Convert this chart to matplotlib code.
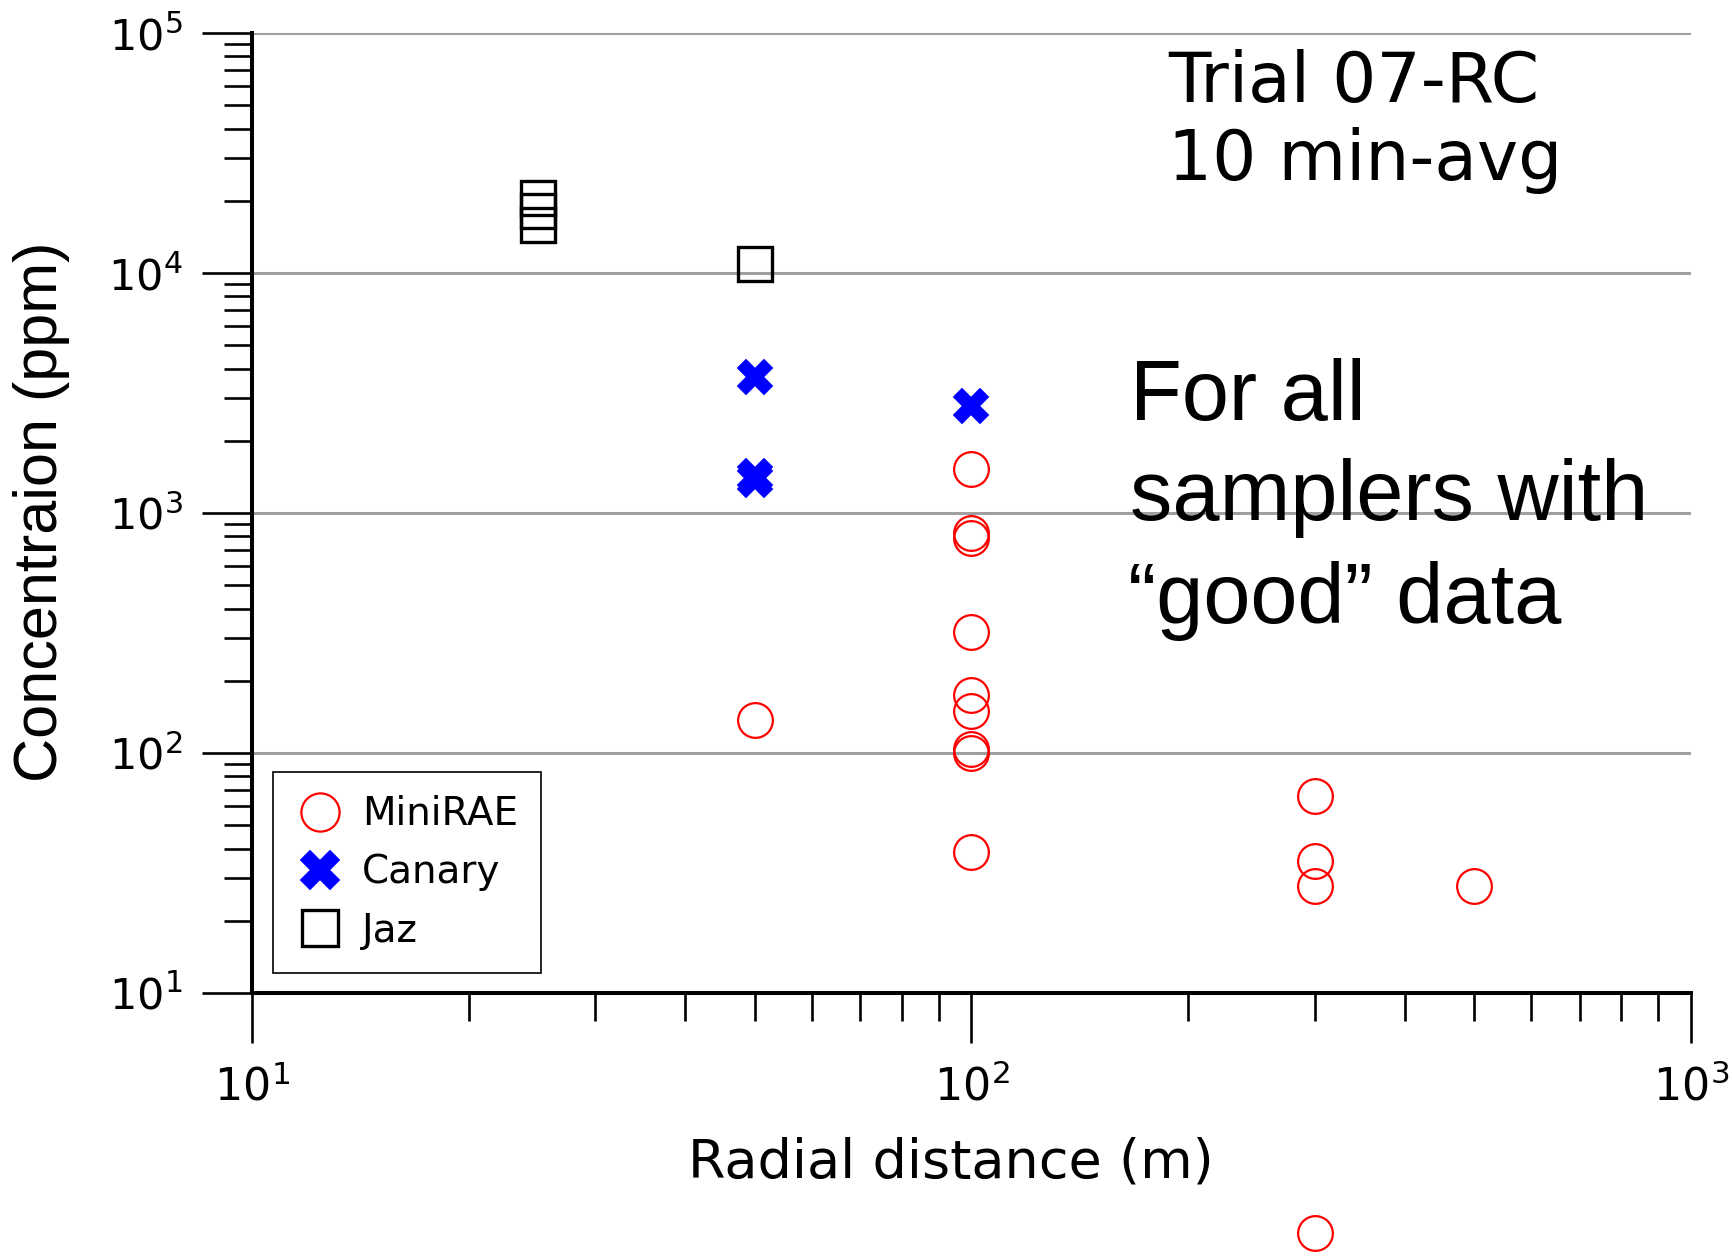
import matplotlib
matplotlib.use('Agg')
import matplotlib.pyplot as plt
from matplotlib.ticker import LogLocator, NullFormatter

# readings from the reference chart
minirae_x = [50, 100, 100, 100, 100, 100, 100, 100, 100, 100, 300, 300, 300, 300, 500]
minirae_y = [137, 1519, 828, 787, 320, 174, 149, 104, 100, 38.6, 66.2, 35.5, 27.9, 1.0, 27.9]
canary_x = [50, 50, 50, 100]
canary_y = [3675, 1420, 1370, 2795]
jaz_x = [25, 25, 25, 50]
jaz_y = [20470, 18130, 15810, 10900]

W, H = 1733, 1258
plt.rcParams['mathtext.default'] = 'regular'
plt.rcParams['font.family'] = ['DejaVu Sans']

fig = plt.figure(figsize=(W / 100, H / 100), dpi=100)
ax = fig.add_axes([252 / W, 1 - 993 / H, 1439 / W, 960 / H])

ax.plot(minirae_x, minirae_y, 'o', ms=25, mfc='none', mec='red', mew=1.6,
        label='MiniRAE', clip_on=False, zorder=3)
ax.plot(canary_x, canary_y, 'X', ms=26, mfc='blue', mec='blue', mew=0.3,
        label='Canary', zorder=3)
ax.plot(jaz_x, jaz_y, 's', ms=24, mfc='none', mec='black', mew=2.4,
        label='Jaz', zorder=3)

ax.set_xscale('log')
ax.set_yscale('log')
ax.set_xlim(10, 1000)
ax.set_ylim(10, 1e5)

ax.xaxis.set_minor_locator(LogLocator(base=10, subs=range(2, 10)))
ax.yaxis.set_minor_locator(LogLocator(base=10, subs=range(2, 10)))
ax.xaxis.set_minor_formatter(NullFormatter())
ax.yaxis.set_minor_formatter(NullFormatter())

for side in ['top', 'right']:
    ax.spines[side].set_visible(False)
for side in ['left', 'bottom']:
    ax.spines[side].set_linewidth(2.9)

ax.tick_params(which='major', direction='out', length=36, width=1.9)
ax.tick_params(which='minor', direction='out', length=20, width=1.9)
ax.tick_params(axis='x', which='major', labelsize=32, pad=16)
ax.tick_params(axis='y', which='major', labelsize=31, pad=14)

ax.grid(True, which='major', axis='y', color='#a0a0a0', lw=2.2)
ax.set_axisbelow(True)

ax.set_xlabel('Radial distance (m)', fontsize=39)
ax.xaxis.set_label_coords(0.4858, -0.149)
ax.set_ylabel('Concentraion (ppm)', fontsize=44, family=['Liberation Sans', 'DejaVu Sans'])
ax.yaxis.set_label_coords(-0.1265, 0.501)

leg = ax.legend(loc='lower left', bbox_to_anchor=(0.0146, 0.0208), borderaxespad=0,
                fontsize=28, fancybox=False, edgecolor='black', framealpha=1,
                handlelength=1.2, handletextpad=0.48, borderpad=0.6,
                labelspacing=0.52, markerscale=1.1)
leg.get_frame().set_linewidth(1.2)


def px_text(x, y, s, **kw):
    fig.text(x / W, 1 - y / H, s, ha='left', va='baseline', **kw)


px_text(1168, 102, 'Trial 07-RC', fontsize=50)
px_text(1168, 180, '10 min-avg', fontsize=50)

arial = ['Liberation Sans', 'DejaVu Sans']
px_text(1130, 420, 'For all', fontsize=61, family=arial)
px_text(1130, 520, 'samplers with', fontsize=61, family=arial)
px_text(1128, 623, '\u201cgood\u201d data', fontsize=61, family=arial)

fig.savefig('out.png', dpi=100)
